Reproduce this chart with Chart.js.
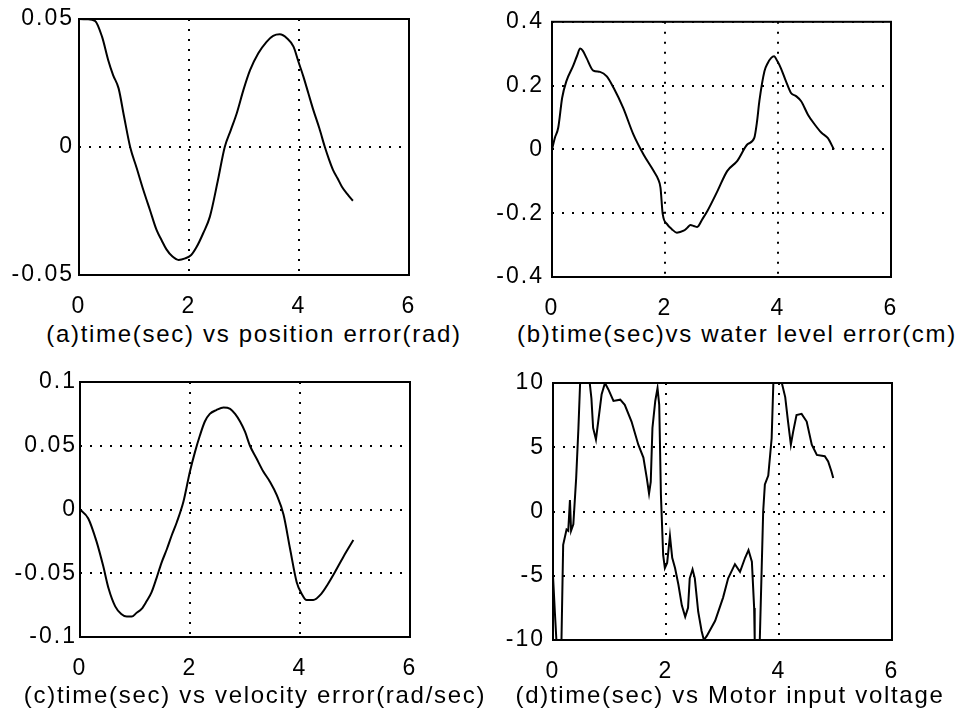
<!DOCTYPE html>
<html>
<head>
<meta charset="utf-8">
<script src="https://cdn.jsdelivr.net/npm/chart.js@4.4.1/dist/chart.umd.min.js"></script>
<style>
  body { margin: 0; background: #fff; width: 961px; height: 717px; position: relative; overflow: hidden;
         font-family: "Liberation Sans", Arial, sans-serif; }
  canvas { position: absolute; }
  .cap { position: absolute; width: 500px; text-align: center; font-size: 24px; letter-spacing: 1.7px;
         line-height: 28px; color: #000; white-space: nowrap; }
</style>
</head>
<body>
<canvas id="chartA" width="480" height="320" style="left:0;top:0"></canvas>
<canvas id="chartB" width="481" height="320" style="left:480px;top:0"></canvas>
<canvas id="chartC" width="480" height="340" style="left:0;top:350px"></canvas>
<canvas id="chartD" width="481" height="340" style="left:480px;top:350px"></canvas>
<div class="cap" style="left:4px;top:320px">(a)time(sec) vs position error(rad)</div>
<div class="cap" style="left:487px;top:320px">(b)time(sec)vs water level error(cm)</div>
<div class="cap" style="left:5px;top:681px">(c)time(sec) vs velocity error(rad/sec)</div>
<div class="cap" style="left:480px;top:681px">(d)time(sec) vs Motor input voltage</div>
<script>
// (a) position error
const timeA = [0, 0.15, 0.29, 0.42, 0.53, 0.62, 0.72, 0.82, 0.93, 1.05, 1.17, 1.29, 1.41, 1.50, 1.59, 1.70, 1.81, 1.93, 2.04, 2.14,
  2.26, 2.38, 2.52, 2.65, 2.76, 2.87, 2.99, 3.11, 3.26, 3.41, 3.53, 3.65, 3.78, 3.90, 3.99, 4.08, 4.17, 4.26, 4.37, 4.47,
  4.55, 4.62, 4.70, 4.78, 4.88, 4.98];
const posErr = [0.05, 0.0499, 0.0493, 0.043, 0.034, 0.0281, 0.0229, 0.0118, 0.0, -0.0083, -0.0168, -0.0246, -0.0324, -0.0363, -0.040, -0.0428, -0.0441, -0.0435, -0.0422, -0.039,
  -0.0336, -0.0272, -0.0136, 0.0, 0.0066, 0.0133, 0.0223, 0.030, 0.0366, 0.0411, 0.0434, 0.044, 0.0425, 0.0392, 0.0333, 0.0275, 0.021, 0.0145, 0.0073, 0.0,
  -0.0051, -0.009, -0.0122, -0.0155, -0.0184, -0.021];

// (b) water level error
const timeB = [0, 0.05, 0.11, 0.18, 0.255, 0.37, 0.44, 0.50, 0.55, 0.61, 0.73, 0.85, 0.97, 1.09, 1.26, 1.44, 1.62, 1.80, 1.88, 1.92,
  1.96, 2.04, 2.12, 2.21, 2.33, 2.40, 2.45, 2.51, 2.57, 2.66, 2.75, 2.93, 3.10, 3.28, 3.46, 3.58, 3.63, 3.67, 3.76, 3.82,
  3.88, 3.93, 3.99, 4.05, 4.14, 4.23, 4.32, 4.41, 4.53, 4.65, 4.77, 4.88, 4.99];
const levelErr = [0, 0.036, 0.068, 0.162, 0.214, 0.26, 0.292, 0.316, 0.308, 0.287, 0.247, 0.243, 0.229, 0.193, 0.130, 0.047, -0.016, -0.068, -0.094, -0.12,
  -0.203, -0.235, -0.250, -0.261, -0.255, -0.245, -0.237, -0.240, -0.243, -0.219, -0.193, -0.130, -0.068, -0.036, 0.016, 0.036, 0.089, 0.151, 0.245, 0.271,
  0.287, 0.292, 0.276, 0.255, 0.214, 0.177, 0.167, 0.151, 0.109, 0.078, 0.052, 0.036, 0.0];

// (c) velocity error
const timeC = [0, 0.15, 0.30, 0.42, 0.52, 0.64, 0.75, 0.85, 0.94, 1.03, 1.12, 1.21, 1.30, 1.39, 1.48, 1.58, 1.67, 1.76, 1.88, 2.00,
  2.09, 2.18, 2.27, 2.36, 2.48, 2.61, 2.73, 2.82, 2.91, 3.00, 3.09, 3.21, 3.33, 3.45, 3.58, 3.70, 3.82, 3.94, 4.03, 4.12,
  4.24, 4.39, 4.50, 4.61, 4.79, 4.97];
const velErr = [0, -0.007, -0.025, -0.044, -0.062, -0.076, -0.082, -0.084, -0.084, -0.081, -0.078, -0.072, -0.065, -0.054, -0.042, -0.031, -0.020, -0.010, 0.006, 0.030,
  0.045, 0.058, 0.069, 0.075, 0.078, 0.080, 0.079, 0.075, 0.069, 0.061, 0.050, 0.040, 0.030, 0.022, 0.011, -0.004, -0.031, -0.057, -0.066, -0.071,
  -0.071, -0.066, -0.059, -0.051, -0.037, -0.024];

// (d) motor input voltage
const timeD = [0, 0.035, 0.06, 0.15, 0.18, 0.24, 0.27, 0.30, 0.32, 0.36, 0.41, 0.45, 0.48, 0.65, 0.68, 0.71, 0.76, 0.80, 0.86, 0.92,
  0.98, 1.07, 1.19, 1.27, 1.39, 1.51, 1.60, 1.66, 1.70, 1.73, 1.76, 1.81, 1.85, 1.88, 1.91, 1.95, 1.98, 2.02, 2.07, 2.11,
  2.16, 2.22, 2.28, 2.34, 2.39, 2.42, 2.47, 2.51, 2.57, 2.63, 2.67, 2.72, 2.87, 3.01, 3.10, 3.22, 3.31, 3.40, 3.46, 3.52,
  3.56, 3.57, 3.66, 3.72, 3.75, 3.81, 3.87, 3.90, 4.05, 4.11, 4.16, 4.21, 4.25, 4.31, 4.40, 4.49, 4.58, 4.67, 4.81, 4.87,
  4.93, 4.96];
const voltage = [-5, -8, -10, -10, -2.6, -1.4, -1.5, 0.9, -1.5, -1.0, 2.6, 6.5, 10, 10, 8.8, 6.5, 5.6, 7.0, 9.1, 10,
  9.5, 8.6, 8.7, 8.3, 7.0, 5.2, 4.2, 2.6, 1.4, 2.3, 6.5, 8.6, 9.6, 8.3, 1.3, -3.4, -4.4, -4.0, -1.9, -3.6,
  -4.4, -5.7, -7.3, -8.2, -7.5, -5.2, -4.5, -5.2, -7.8, -9.3, -10, -9.7, -8.5, -6.7, -5.2, -4.1, -4.7, -3.6, -3.0, -3.9,
  -7.5, -10, -10, 0.0, 2.1, 2.8, 5.7, 10, 10, 8.9, 7.0, 5.2, 6.2, 7.5, 7.6, 7.0, 5.2, 4.4, 4.3, 3.9,
  3.1, 2.6];

const tickFont = { family: '"Liberation Sans", Arial, sans-serif', size: 23 };

// solid box round the plot area, wider tick text
const framePlugin = {
  id: 'frame',
  beforeDraw(chart) {
    chart.ctx.letterSpacing = '2px';
  },
  afterDraw(chart) {
    const a = chart.chartArea;
    const ctx = chart.ctx;
    ctx.save();
    ctx.strokeStyle = '#000';
    ctx.lineWidth = 2;
    ctx.setLineDash([]);
    ctx.strokeRect(a.left, a.top, a.right - a.left, a.bottom - a.top);
    ctx.restore();
  }
};

function makePanel(id, xs, ys, yMin, yMax, yStep, area, labelPad, smooth) {
  const canvas = document.getElementById(id);
  const w = canvas.width, h = canvas.height;
  const gridOpts = { color: '#000', lineWidth: 2, drawTicks: false, tickLength: 0 };
  return new Chart(canvas, {
    type: 'line',
    data: {
      datasets: [{
        data: xs.map((x, i) => ({ x: x, y: ys[i] })),
        borderColor: '#000',
        borderWidth: 2,
        pointRadius: 0,
        fill: false,
        cubicInterpolationMode: smooth ? 'monotone' : 'default',
        tension: 0
      }]
    },
    options: {
      responsive: false,
      animation: false,
      layout: { padding: { left: 0, top: area.top, right: w - area.right, bottom: 0 } },
      plugins: { legend: { display: false }, tooltip: { enabled: false } },
      scales: {
        x: {
          type: 'linear', min: 0, max: 6,
          ticks: { stepSize: 2, padding: 18, color: '#000', font: tickFont, maxRotation: 0 },
          grid: gridOpts,
          border: { display: false, dash: [2, 8] },
          afterFit: s => { s.height = h - area.bottom; }
        },
        y: {
          min: yMin, max: yMax,
          ticks: { stepSize: yStep, padding: labelPad, color: '#000', font: tickFont,
                   callback: v => String(Number(v.toFixed(3))) },
          grid: gridOpts,
          border: { display: false, dash: [2, 8] },
          afterFit: s => { s.width = area.left; }
        }
      }
    },
    plugins: [framePlugin]
  });
}

makePanel('chartA', timeA, posErr, -0.05, 0.05, 0.05, { left: 79, top: 19, right: 409, bottom: 275 }, 5, true);
makePanel('chartB', timeB, levelErr, -0.4, 0.4, 0.2, { left: 72, top: 21, right: 411, bottom: 277 }, 8, true);
makePanel('chartC', timeC, velErr, -0.1, 0.1, 0.05, { left: 80, top: 32, right: 410, bottom: 287 }, 3, true);
makePanel('chartD', timeD, voltage, -10, 10, 5, { left: 73, top: 33, right: 412, bottom: 290 }, 8, false);
</script>
</body>
</html>
